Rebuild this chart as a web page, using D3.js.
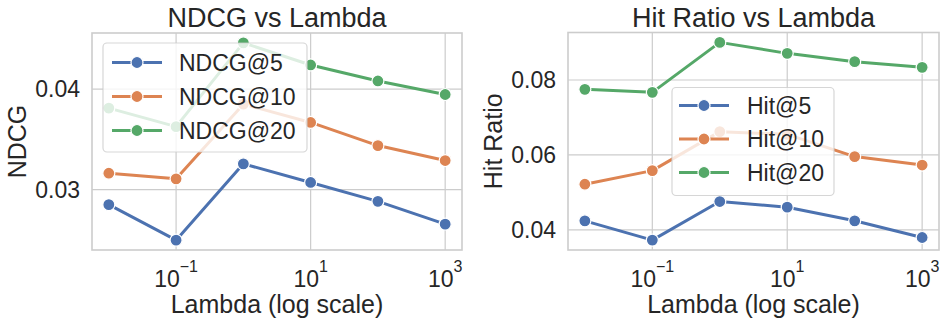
<!DOCTYPE html>
<html>
<head>
<meta charset="utf-8">
<script src="https://cdn.jsdelivr.net/npm/d3@7"></script>
<style>
  html, body { margin: 0; padding: 0; background: #fff; }
  svg { display: block; font-family: "Liberation Sans", Arial, sans-serif; }
</style>
</head>
<body>
<svg id="chart" width="947" height="327"></svg>
<script>
// ---- data ----
const lambdas = [0.01, 0.1, 1, 10, 100, 1000];
const xTickValues = [0.1, 10, 1000];
const xTickExponents = ["\u22121", "1", "3"];

const ndcg5  = [0.02851, 0.02498, 0.03257, 0.03072, 0.02884, 0.02657];
const ndcg10 = [0.03164, 0.03108, 0.03851, 0.03669, 0.03439, 0.03290];
const ndcg20 = [0.03812, 0.03627, 0.04461, 0.04241, 0.04082, 0.03947];
const ndcgNames = ["NDCG@5", "NDCG@10", "NDCG@20"];
const ndcgTicks = [0.03, 0.04];

const hit5  = [0.0424, 0.03725, 0.04755, 0.04605, 0.0424, 0.03795];
const hit10 = [0.05218, 0.05581, 0.06621, 0.0655, 0.05955, 0.0573];
const hit20 = [0.07751, 0.07671, 0.09005, 0.08712, 0.0849, 0.08339];
const hitNames = ["Hit@5", "Hit@10", "Hit@20"];
const hitTicks = [0.04, 0.06, 0.08];

const colors = ["#4c72b0", "#dd8452", "#55a868"];

const svg = d3.select("#chart");
const GRID = "#cccccc";

function panel(opt) {
  const {left, right, top, bottom, series, names, yTicks, title, ylabel, ylabelX, legend} = opt;
  const g = svg.append("g");
  const x = d3.scaleLog().domain([Math.pow(10, -2.25), Math.pow(10, 3.25)]).range([left, right]);
  const all = series.flat();
  const [mn, mx] = d3.extent(all);
  const pad = (mx - mn) * 0.05;
  const y = d3.scaleLinear().domain([mn - pad, mx + pad]).range([bottom, top]);

  // grid
  g.selectAll(".gx").data(xTickValues).join("line")
    .attr("x1", d => x(d)).attr("x2", d => x(d)).attr("y1", top).attr("y2", bottom)
    .attr("stroke", GRID).attr("stroke-width", 1.2);
  g.selectAll(".gy").data(yTicks).join("line")
    .attr("y1", d => y(d)).attr("y2", d => y(d)).attr("x1", left).attr("x2", right)
    .attr("stroke", GRID).attr("stroke-width", 1.2);

  // spines
  g.append("rect").attr("x", left).attr("y", top).attr("width", right - left).attr("height", bottom - top)
    .attr("fill", "none").attr("stroke", GRID).attr("stroke-width", 1.6);

  // y tick labels
  g.selectAll(".yt").data(yTicks).join("text")
    .attr("x", left - 12).attr("y", d => y(d)).attr("dy", "0.36em")
    .attr("text-anchor", "end").attr("font-size", 23).attr("fill", "#262626")
    .text(d => d3.format(".2f")(d));

  // x tick labels with superscripts
  xTickValues.forEach((v, i) => {
    const t = g.append("text").attr("x", x(v)).attr("y", bottom + 37)
      .attr("text-anchor", "middle").attr("font-size", 23).attr("fill", "#262626");
    t.append("tspan").text("10");
    t.append("tspan").attr("font-size", 16).attr("dy", -15).text(xTickExponents[i]);
  });

  // lines & markers
  const line = d3.line().x((d, i) => x(lambdas[i])).y(d => y(d));
  series.forEach((s, k) => {
    g.append("path").datum(s).attr("d", line).attr("fill", "none")
      .attr("stroke", colors[k]).attr("stroke-width", 3).attr("stroke-linecap", "round").attr("stroke-linejoin", "round");
    g.selectAll(".m" + k).data(s).join("circle")
      .attr("cx", (d, i) => x(lambdas[i])).attr("cy", d => y(d)).attr("r", 6)
      .attr("fill", colors[k]).attr("stroke", "#fff").attr("stroke-width", 1.2);
  });

  // titles
  g.append("text").attr("x", (left + right) / 2).attr("y", 27).attr("text-anchor", "middle")
    .attr("font-size", 27).attr("fill", "#262626").text(title);
  g.append("text").attr("x", (left + right) / 2).attr("y", 313).attr("text-anchor", "middle")
    .attr("font-size", 25).attr("fill", "#262626").text("Lambda (log scale)");
  g.append("text").attr("transform", `translate(${ylabelX},${(top + bottom) / 2}) rotate(-90)`)
    .attr("text-anchor", "middle").attr("font-size", 25).attr("fill", "#262626").text(ylabel);

  // legend
  const L = legend;
  g.append("rect").attr("x", L.x).attr("y", L.y).attr("width", L.w).attr("height", L.h)
    .attr("rx", 4).attr("fill", "#fff").attr("fill-opacity", 0.8)
    .attr("stroke", GRID).attr("stroke-opacity", 0.8).attr("stroke-width", 1.2);
  names.forEach((n, k) => {
    const cy = L.rowY + k * L.rowGap;
    g.append("line").attr("x1", L.hx).attr("x2", L.hx + 50).attr("y1", cy).attr("y2", cy)
      .attr("stroke", colors[k]).attr("stroke-width", 3);
    g.append("circle").attr("cx", L.hx + 25).attr("cy", cy).attr("r", 6)
      .attr("fill", colors[k]).attr("stroke", "#fff").attr("stroke-width", 1.2);
    g.append("text").attr("x", L.tx).attr("y", cy).attr("dy", "0.36em")
      .attr("font-size", 23).attr("fill", "#262626").text(n);
  });
}

panel({
  left: 92, right: 462, top: 33, bottom: 250,
  series: [ndcg5, ndcg10, ndcg20], names: ndcgNames, yTicks: ndcgTicks,
  title: "NDCG vs Lambda", ylabel: "NDCG", ylabelX: 26,
  legend: {x: 103, y: 43, w: 204, h: 109, rowY: 62.5, rowGap: 34, hx: 112, tx: 179}
});

panel({
  left: 568, right: 939, top: 32.5, bottom: 250,
  series: [hit5, hit10, hit20], names: hitNames, yTicks: hitTicks,
  title: "Hit Ratio vs Lambda", ylabel: "Hit Ratio", ylabelX: 502,
  legend: {x: 672, y: 87.5, w: 162, h: 108, rowY: 105.5, rowGap: 33.5, hx: 679, tx: 747}
});
</script>
</body>
</html>
